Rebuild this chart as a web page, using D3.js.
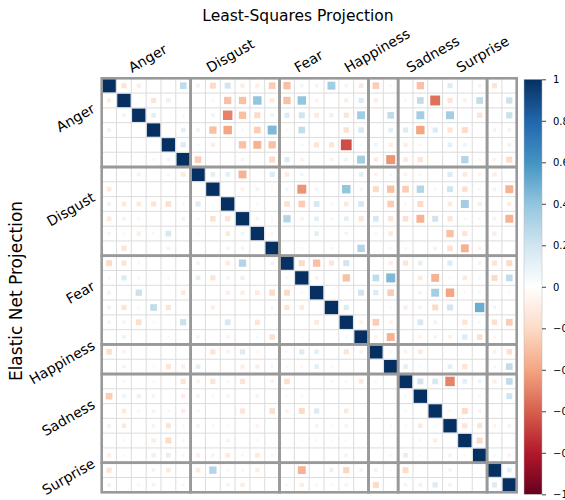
<!DOCTYPE html>
<html>
<head>
<meta charset="utf-8">
<script src="https://cdn.jsdelivr.net/npm/d3@7"></script>
<style>
  body { margin: 0; background: #fff; }
  svg { display: block; font-family: "DejaVu Sans", sans-serif; }
</style>
</head>
<body>
<svg id="chart" width="565" height="500"></svg>
<script>
// emotion groups and how many components each has
const groups = ["Anger", "Disgust", "Fear", "Happiness", "Sadness", "Surprise"];
const groupSizes = [6, 6, 6, 2, 6, 2];

// colour bar ticks
const legendTicks = [1, 0.8, 0.6, 0.4, 0.2, 0, -0.2, -0.4, -0.6, -0.8, -1];

// corrplot RdBu palette
const paletteStops = ["#67001F", "#B2182B", "#D6604D", "#F4A582", "#FDDBC7", "#FFFFFF",
                      "#D1E5F0", "#92C5DE", "#4393C3", "#2166AC", "#053061"];

// rows: elastic net components, columns: least-squares components
const corrRows = [
  [1, -0.15, -0.1, 0, 0, 0.25, 0.08, -0.2, 0.2, -0.1, -0.1, -0.25, -0.3, 0.07, 0.07, 0.35, 0.07, -0.12, -0.25, 0.05, 0, -0.3, 0, 0.15, 0, 0.07, -0.15, 0],
  [-0.1, 1, 0, -0.15, 0.1, 0, 0, 0.05, -0.3, -0.3, 0.4, -0.12, -0.3, 0.4, -0.08, 0, -0.1, 0.15, -0.1, 0, 0.05, 0.25, -0.55, -0.15, -0.08, 0.25, 0, 0.22],
  [0, -0.08, 1, 0.12, 0, 0.05, 0, 0.08, -0.5, -0.3, -0.2, 0.08, 0.15, 0.2, -0.12, 0.1, -0.15, 0.35, 0, 0.25, 0, 0.35, 0, 0.35, 0, -0.15, 0, 0.22],
  [0.08, 0, 0, 1, 0, 0.12, -0.08, -0.3, -0.4, 0.05, -0.25, 0.45, -0.05, 0.25, 0, 0, -0.17, 0.17, 0, 0.12, 0.15, -0.4, 0.15, -0.15, -0.2, 0, 0.07, 0.07],
  [0, 0, 0, 0, 1, 0.15, 0.05, -0.1, 0, -0.3, -0.35, -0.3, 0, 0.05, -0.15, -0.15, -0.65, 0.05, 0.08, -0.1, -0.1, -0.05, 0, 0.12, 0.08, 0, 0, 0.08],
  [0, 0, 0, 0.05, 0.07, 1, -0.25, 0, 0, 0.07, 0, -0.2, 0.15, -0.08, 0, -0.08, 0.08, 0.35, -0.12, -0.45, -0.12, -0.15, 0, 0, 0.3, -0.05, -0.07, -0.2],
  [0, 0, -0.08, 0, 0.05, -0.12, 1, 0.12, 0.12, -0.35, 0, 0.15, -0.12, 0.07, 0, 0, 0, 0.12, -0.07, 0.05, -0.07, -0.05, 0, 0.15, -0.12, -0.07, -0.1, 0],
  [-0.12, 0, 0, 0, 0, 0, 0, 1, 0, -0.08, 0.08, 0.04, 0.07, -0.45, 0.07, 0, 0.4, 0.07, -0.2, -0.3, -0.25, 0.3, 0.05, 0.2, -0.17, 0.05, 0.07, -0.35],
  [0.08, -0.12, -0.12, -0.15, -0.18, 0.05, 0.15, 0, 1, 0, -0.05, 0, -0.17, -0.25, 0.18, -0.05, -0.12, 0.18, 0, -0.25, -0.05, -0.2, 0, -0.12, 0.35, -0.1, 0, -0.1],
  [-0.12, -0.08, -0.05, 0, 0, 0.08, -0.05, -0.17, -0.15, 1, 0.07, -0.05, 0.3, -0.08, 0.12, -0.05, 0.12, -0.15, 0.18, -0.15, -0.17, -0.35, 0.2, -0.15, -0.05, 0.05, -0.08, -0.35],
  [-0.07, 0.05, -0.1, -0.05, 0.18, 0, 0.05, 0, -0.12, 0.07, 1, -0.05, 0, 0, 0.12, 0, 0.07, 0, -0.05, -0.12, 0, 0, 0, -0.3, -0.15, 0, -0.1, 0],
  [0, -0.15, 0, 0, -0.08, 0, 0, 0, 0.07, 0.07, 0, 1, 0, 0.04, 0, -0.05, 0, 0.3, 0, 0.05, 0.05, 0, -0.08, -0.17, -0.35, -0.08, 0, 0],
  [-0.2, -0.15, 0.05, 0, 0, 0, -0.08, 0, -0.12, 0.3, 0, 0.07, 1, -0.2, -0.3, -0.15, 0.2, 0, 0, -0.1, -0.15, 0.12, 0, 0.15, 0, -0.07, -0.15, -0.2],
  [0.05, 0.15, 0.05, 0, 0.05, 0, 0.12, -0.15, -0.07, 0.1, 0, 0, 0.05, 1, -0.08, 0, -0.3, 0, 0.25, 0.45, 0.03, -0.12, -0.35, -0.05, -0.12, 0.05, -0.2, 0.25],
  [0.08, 0, 0.22, 0, 0, -0.12, 0, 0, -0.1, -0.1, -0.12, -0.2, -0.2, 0.05, 1, 0, 0, 0.2, 0.15, -0.25, 0, -0.07, 0.35, -0.4, -0.05, 0.05, 0, -0.04],
  [0.08, -0.15, 0.04, 0.25, -0.15, 0, 0, -0.1, 0, 0, 0, 0.05, -0.15, -0.12, 0, 1, 0.15, 0, 0, 0.05, -0.1, -0.07, -0.2, 0.2, 0, 0.5, 0.07, 0],
  [0.07, -0.07, -0.18, -0.04, 0, 0.22, 0, 0, 0.18, 0, -0.15, 0, 0, 0.03, -0.12, 0, 1, -0.07, -0.25, -0.08, 0, 0.18, 0.08, 0, -0.15, 0.05, -0.17, -0.25],
  [0, 0.08, 0, 0, 0.04, 0, 0.07, 0, -0.07, 0, 0.05, -0.17, 0, 0.04, 0, 0, 0.05, 1, -0.07, -0.35, 0, -0.07, -0.07, -0.08, 0.15, -0.17, -0.05, 0],
  [-0.18, -0.07, 0, 0, 0, 0, 0, -0.15, -0.07, 0.15, -0.05, 0, 0.05, 0.15, 0.12, 0, -0.15, -0.07, 1, 0.05, -0.07, -0.12, 0, 0, 0, 0, -0.08, -0.17],
  [0, -0.07, 0, 0.04, -0.15, -0.1, 0.12, 0, 0, -0.1, -0.1, -0.05, -0.05, -0.05, 0.12, 0.05, 0, 0, 0, 1, 0.12, 0.04, 0, 0.12, -0.15, 0, -0.05, 0.25],
  [0, 0.05, 0, 0.04, 0, -0.15, -0.08, -0.15, 0.05, -0.15, 0, 0.07, -0.18, 0, 0, -0.05, -0.05, -0.12, -0.05, 0, 1, 0.2, 0.18, -0.5, 0.12, 0.08, -0.1, 0.25],
  [-0.25, 0.08, 0.1, -0.07, 0, -0.1, -0.08, -0.05, -0.07, 0, -0.08, 0, 0.04, -0.05, 0, 0, 0, 0, 0, 0, 0.05, 1, 0, 0, 0, -0.05, 0, 0.2],
  [0, -0.12, 0.05, 0.07, 0.05, -0.1, 0.05, 0, 0, -0.15, 0, -0.18, -0.08, -0.2, 0.15, 0, -0.12, 0, 0, 0, 0.05, 0, 1, -0.05, -0.2, -0.07, 0, 0],
  [0.08, -0.12, 0, -0.07, -0.15, -0.05, 0.07, 0.05, 0.04, 0, -0.07, 0, 0, 0, -0.07, 0.04, 0.07, 0, 0, -0.05, 0.04, -0.12, 0.04, 1, -0.15, -0.15, -0.07, -0.07],
  [0, -0.05, 0, -0.1, -0.2, -0.05, 0, 0, 0.07, 0, -0.05, 0, 0, -0.04, -0.05, -0.04, 0.05, 0, 0, 0, 0, -0.05, -0.1, 0, 1, -0.2, 0, 0],
  [-0.1, 0.04, 0, 0.1, 0.12, -0.05, -0.1, -0.07, -0.12, 0.05, -0.12, 0.05, 0, 0, 0, 0, -0.07, 0, 0, -0.05, 0.12, 0.04, 0, -0.07, -0.04, 1, 0.05, -0.07],
  [-0.15, 0, 0, 0.07, -0.12, 0, -0.12, 0.3, 0.05, -0.05, -0.1, 0, 0, -0.35, 0, 0.1, -0.22, -0.07, -0.08, 0.04, -0.2, 0, 0, -0.07, 0, 0, 1, 0.12],
  [0.08, 0, 0.05, 0.07, 0, -0.05, 0, 0, 0.07, -0.1, 0, 0, -0.05, -0.1, 0.05, 0.04, -0.07, 0, -0.2, 0, 0.07, 0.08, 0.15, -0.08, 0, 0, 0.15, 1]
];

const svg = d3.select("#chart");

// matrix area
const mLeft = 101.7, mRight = 516.7, mTop = 78.3, mBottom = 492.3;
const n = corrRows.length;
const idx = d3.range(n);

const x = d3.scaleBand().domain(idx).range([mLeft, mRight]);
const y = d3.scaleBand().domain(idx).range([mTop, mBottom]);

const color = d3.scaleLinear()
  .domain(d3.range(11).map(i => -1 + i * 0.2))
  .range(paletteStops)
  .interpolate(d3.interpolateRgb);

// flatten to cells
const cells = [];
corrRows.forEach((row, r) => row.forEach((v, c) => cells.push({ r, c, v })));

// thin grid
const grid = svg.append("g");
grid.selectAll("line.v")
  .data(d3.range(n + 1))
  .enter().append("line")
  .attr("x1", d => mLeft + d * x.step()).attr("x2", d => mLeft + d * x.step())
  .attr("y1", mTop).attr("y2", mBottom)
  .attr("stroke", "#dcdcdc").attr("stroke-width", 1);
grid.selectAll("line.h")
  .data(d3.range(n + 1))
  .enter().append("line")
  .attr("y1", d => mTop + d * y.step()).attr("y2", d => mTop + d * y.step())
  .attr("x1", mLeft).attr("x2", mRight)
  .attr("stroke", "#dcdcdc").attr("stroke-width", 1);

// squares, side ~ sqrt(|r|)
const maxSide = x.bandwidth() * 0.9;
const side = v => maxSide * Math.sqrt(Math.abs(v));
svg.append("g")
  .selectAll("rect")
  .data(cells.filter(d => d.v !== 0))
  .enter().append("rect")
  .attr("x", d => x(d.c) + (x.bandwidth() - side(d.v)) / 2)
  .attr("y", d => y(d.r) + (y.bandwidth() - side(d.v)) / 2)
  .attr("width", d => side(d.v))
  .attr("height", d => side(d.v))
  .attr("fill", d => color(d.v));

// group rectangles
const starts = groupSizes.map((s, i) => d3.sum(groupSizes.slice(0, i)));
const rects = svg.append("g");
starts.forEach((s, i) => {
  starts.forEach((t, j) => {
    rects.append("rect")
      .attr("x", x(t)).attr("y", y(s))
      .attr("width", groupSizes[j] * x.step())
      .attr("height", groupSizes[i] * y.step())
      .attr("fill", "none")
      .attr("stroke", "#999")
      .attr("stroke-width", 2.6);
  });
});

// group labels, rotated like corrplot's tl.srt
const topLabelX = [132, 210, 298, 348, 410, 460];
svg.append("g")
  .selectAll("text")
  .data(groups)
  .enter().append("text")
  .attr("transform", (d, i) => `translate(${topLabelX[i]},73) rotate(-30)`)
  .attr("font-size", 14)
  .attr("fill", "#000")
  .text(d => d);

svg.append("g")
  .selectAll("text")
  .data(groups)
  .enter().append("text")
  .attr("transform", (d, i) => {
    const cy = y(starts[i]) + groupSizes[i] * y.step() / 2;
    return `translate(96,${cy - 11}) rotate(-30)`;
  })
  .attr("text-anchor", "end")
  .attr("font-size", 14)
  .attr("fill", "#000")
  .text(d => d);

// titles
svg.append("text")
  .attr("x", 298).attr("y", 21)
  .attr("text-anchor", "middle")
  .attr("font-size", 15.5)
  .text("Least-Squares Projection");

svg.append("text")
  .attr("transform", "translate(22,291) rotate(-90)")
  .attr("text-anchor", "middle")
  .attr("font-size", 17)
  .text("Elastic Net Projection");

// colour bar
const defs = svg.append("defs");
const grad = defs.append("linearGradient")
  .attr("id", "cbar").attr("x1", 0).attr("y1", 1).attr("x2", 0).attr("y2", 0);
grad.selectAll("stop")
  .data(paletteStops)
  .enter().append("stop")
  .attr("offset", (d, i) => i / 10)
  .attr("stop-color", d => d);

const barY = d3.scaleLinear().domain([1, -1]).range([mTop + 1, mBottom + 2]);
svg.append("rect")
  .attr("x", 524).attr("y", barY(1))
  .attr("width", 18).attr("height", barY(-1) - barY(1))
  .attr("fill", "url(#cbar)")
  .attr("stroke", "#bbb").attr("stroke-width", 0.5);

const barAxis = d3.axisRight(barY)
  .tickValues(legendTicks)
  .tickSize(4)
  .tickFormat(d => d3.format("")(d));
const ax = svg.append("g")
  .attr("transform", "translate(542,0)")
  .call(barAxis);
ax.select(".domain").remove();
ax.selectAll("line").attr("stroke", "#444");
ax.selectAll("text")
  .attr("x", 11)
  .attr("font-size", 10)
  .attr("font-family", "DejaVu Sans, sans-serif")
  .attr("fill", "#000");
</script>
</body>
</html>
